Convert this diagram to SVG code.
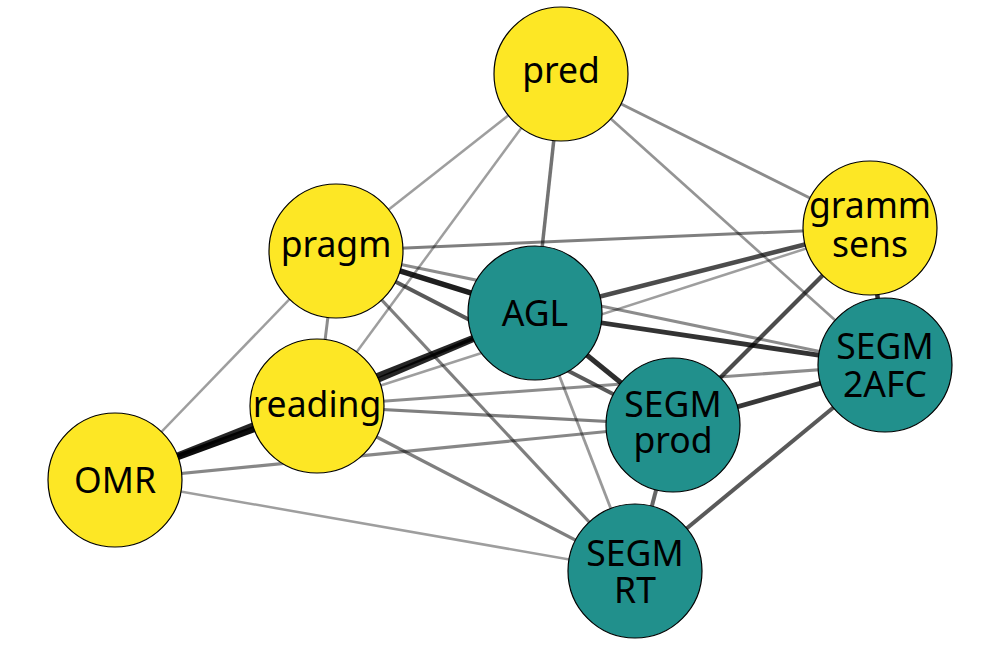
<svg xmlns="http://www.w3.org/2000/svg" width="1000" height="646" viewBox="0 0 1000 646">
<style>
.e{stroke:#000;fill:none;stroke-linecap:butt}
.y{fill:#FDE725;stroke:#000;stroke-width:1.2}
.t{fill:#21908C;stroke:#000;stroke-width:1.2}
text{font-family:"Noto Sans","Open Sans","DejaVu Sans",sans-serif;font-size:35.5px;fill:#000;text-anchor:middle}
</style>
<rect width="1000" height="646" fill="#fff"/>
<g id="edges">
<line class="e" x1="561" y1="74" x2="336" y2="251" stroke-opacity="0.38" stroke-width="2.5"/>
<line class="e" x1="561" y1="74" x2="317" y2="406" stroke-opacity="0.38" stroke-width="2.5"/>
<line class="e" x1="561" y1="74" x2="535" y2="313" stroke-opacity="0.55" stroke-width="3.5"/>
<line class="e" x1="561" y1="74" x2="870" y2="228" stroke-opacity="0.45" stroke-width="3"/>
<line class="e" x1="561" y1="74" x2="885" y2="365" stroke-opacity="0.42" stroke-width="2.7"/>
<line class="e" x1="336" y1="251" x2="870" y2="228" stroke-opacity="0.5" stroke-width="3"/>
<line class="e" x1="336" y1="251" x2="535" y2="313" stroke-opacity="0.88" stroke-width="5.5"/>
<line class="e" x1="336" y1="251" x2="115" y2="480" stroke-opacity="0.38" stroke-width="2.5"/>
<line class="e" x1="336" y1="251" x2="317" y2="406" stroke-opacity="0.45" stroke-width="3"/>
<line class="e" x1="336" y1="251" x2="635" y2="571" stroke-opacity="0.5" stroke-width="3.2"/>
<line class="e" x1="336" y1="251" x2="673" y2="425" stroke-opacity="0.65" stroke-width="4"/>
<line class="e" x1="336" y1="251" x2="885" y2="365" stroke-opacity="0.45" stroke-width="3"/>
<line class="e" x1="870" y1="228" x2="535" y2="313" stroke-opacity="0.7" stroke-width="4.5"/>
<line class="e" x1="870" y1="228" x2="317" y2="406" stroke-opacity="0.38" stroke-width="2.5"/>
<line class="e" x1="870" y1="228" x2="673" y2="425" stroke-opacity="0.7" stroke-width="4.2"/>
<line class="e" x1="870" y1="228" x2="885" y2="365" stroke-opacity="0.8" stroke-width="4.5"/>
<line class="e" x1="535" y1="313" x2="885" y2="365" stroke-opacity="0.8" stroke-width="4.8"/>
<line class="e" x1="535" y1="313" x2="673" y2="425" stroke-opacity="0.82" stroke-width="5"/>
<line class="e" x1="535" y1="313" x2="317" y2="406" stroke-opacity="0.85" stroke-width="5.5"/>
<line class="e" x1="535" y1="313" x2="115" y2="480" stroke-opacity="0.85" stroke-width="5.5"/>
<line class="e" x1="535" y1="313" x2="635" y2="571" stroke-opacity="0.4" stroke-width="2.8"/>
<line class="e" x1="115" y1="480" x2="317" y2="406" stroke-opacity="0.95" stroke-width="6.5"/>
<line class="e" x1="115" y1="480" x2="673" y2="425" stroke-opacity="0.47" stroke-width="3.2"/>
<line class="e" x1="115" y1="480" x2="635" y2="571" stroke-opacity="0.38" stroke-width="2.5"/>
<line class="e" x1="317" y1="406" x2="885" y2="365" stroke-opacity="0.45" stroke-width="3"/>
<line class="e" x1="317" y1="406" x2="673" y2="425" stroke-opacity="0.5" stroke-width="3.2"/>
<line class="e" x1="317" y1="406" x2="635" y2="571" stroke-opacity="0.5" stroke-width="3.2"/>
<line class="e" x1="673" y1="425" x2="885" y2="365" stroke-opacity="0.78" stroke-width="4.8"/>
<line class="e" x1="673" y1="425" x2="635" y2="571" stroke-opacity="0.6" stroke-width="4"/>
<line class="e" x1="635" y1="571" x2="885" y2="365" stroke-opacity="0.65" stroke-width="4"/>
</g>
<g id="pred"><circle class="y" cx="561" cy="74" r="67"/><text x="561" y="83">pred</text></g>
<g id="pragm"><circle class="y" cx="336" cy="251" r="67"/><text x="336" y="257">pragm</text></g>
<g id="gramm_sens"><circle class="y" cx="870" cy="228" r="67"/><text x="870" y="218">gramm</text><text x="870" y="257">sens</text></g>
<g id="AGL"><circle class="t" cx="535" cy="313" r="67"/><text x="535" y="326">AGL</text></g>
<g id="SEGM_2AFC"><circle class="t" cx="885" cy="365" r="67"/><text x="885" y="359">SEGM</text><text x="885" y="397">2AFC</text></g>
<g id="reading"><circle class="y" cx="317" cy="406" r="67"/><text x="317" y="417">reading</text></g>
<g id="SEGM_prod"><circle class="t" cx="673" cy="425" r="67"/><text x="673" y="417">SEGM</text><text x="673" y="453">prod</text></g>
<g id="OMR"><circle class="y" cx="115" cy="480" r="67"/><text x="115" y="493">OMR</text></g>
<g id="SEGM_RT"><circle class="t" cx="635" cy="571" r="67"/><text x="635" y="566">SEGM</text><text x="635" y="603">RT</text></g>
</svg>
